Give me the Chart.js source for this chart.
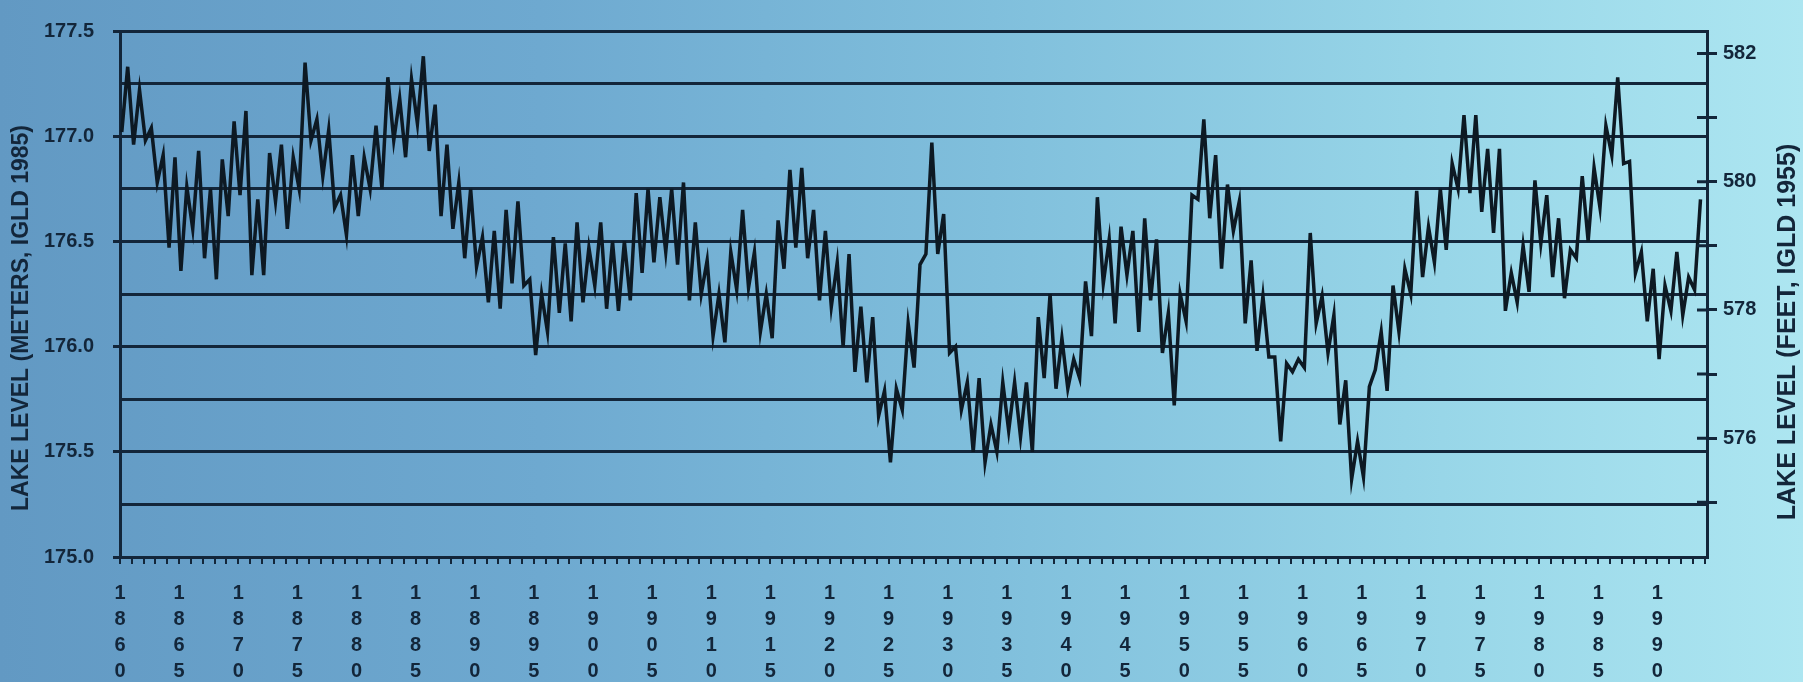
<!DOCTYPE html>
<html>
<head>
<meta charset="utf-8">
<script src="https://cdn.jsdelivr.net/npm/chart.js@4.4.1/dist/chart.umd.min.js"></script>
<style>
  html, body { margin: 0; padding: 0; }
  body {
    width: 1803px; height: 682px; overflow: hidden;
    background: linear-gradient(90deg, #6299c3 0%, #6ea9d0 30%, #80bfdc 55%, #98d6e8 80%, #ade6f1 100%);
  }
</style>
</head>
<body>
<canvas id="lake" width="1803" height="682"></canvas>
<script>
// yearly lake level, metres IGLD 1985
var firstYear = 1860;

// winter low of each year, 1860 ... 1993
var winterLow = [
  177.02, 176.96, 176.98, 176.78, 176.47, 176.36, 176.56, 176.42, 176.32, 176.62, // 1860
  176.72, 176.34, 176.34, 176.69, 176.56, 176.75, 176.98, 176.81, 176.66, 176.53, // 1870
  176.62, 176.75, 176.75, 176.98, 176.90, 177.06, 176.93, 176.62, 176.56, 176.42, // 1880
  176.38, 176.21, 176.18, 176.30, 176.29, 175.96, 176.07, 176.16, 176.12, 176.21, // 1890
  176.29, 176.18, 176.17, 176.22, 176.35, 176.40, 176.45, 176.39, 176.22, 176.25, // 1900
  176.05, 176.02, 176.27, 176.28, 176.07, 176.04, 176.37, 176.47, 176.42, 176.22, // 1910
  176.19, 176.00, 175.88, 175.83, 175.67, 175.45, 175.70, 175.90, 176.44, 176.44, // 1920
  175.97, 175.70, 175.50, 175.45, 175.50, 175.60, 175.57, 175.50, 175.85, 175.80, // 1930
  175.80, 175.85, 176.05, 176.30, 176.11, 176.34, 176.07, 176.22, 175.97, 175.72, // 1940
  176.12, 176.70, 176.61, 176.37, 176.55, 176.11, 175.98, 175.95, 175.55, 175.88, // 1950
  175.90, 176.11, 175.97, 175.63, 175.37, 175.38, 175.89, 175.79, 176.07, 176.25, // 1960
  176.33, 176.40, 176.46, 176.75, 176.73, 176.64, 176.54, 176.17, 176.21, 176.26, // 1970
  176.49, 176.33, 176.23, 176.42, 176.50, 176.66, 176.91, 176.87, 176.35, 176.12, // 1980
  175.94, 176.17, 176.15, 176.27                                                  // 1990
];

// summer high of each year, 1860 ... 1993
var summerHigh = [
  177.33, 177.22, 177.04, 176.91, 176.90, 176.76, 176.93, 176.75, 176.89, 177.07, // 1860
  177.12, 176.70, 176.92, 176.96, 176.90, 177.35, 177.08, 177.03, 176.72, 176.91, // 1870
  176.90, 177.05, 177.28, 177.18, 177.27, 177.38, 177.15, 176.96, 176.78, 176.75, // 1880
  176.52, 176.55, 176.65, 176.69, 176.32, 176.25, 176.52, 176.49, 176.59, 176.47, // 1890
  176.59, 176.50, 176.50, 176.73, 176.75, 176.71, 176.75, 176.78, 176.59, 176.41, // 1900
  176.25, 176.45, 176.65, 176.45, 176.25, 176.60, 176.84, 176.85, 176.65, 176.55, // 1910
  176.40, 176.44, 176.19, 176.14, 175.79, 175.80, 176.11, 176.39, 176.97, 176.63, // 1920
  176.00, 175.83, 175.85, 175.63, 175.83, 175.83, 175.83, 176.14, 176.25, 176.04, // 1930
  175.94, 176.31, 176.71, 176.51, 176.57, 176.55, 176.61, 176.51, 176.16, 176.25, // 1940
  176.72, 177.08, 176.91, 176.77, 176.69, 176.41, 176.24, 175.95, 175.92, 175.94, // 1950
  176.54, 176.24, 176.15, 175.84, 175.55, 175.81, 176.07, 176.29, 176.37, 176.74, // 1960
  176.57, 176.75, 176.87, 177.10, 177.10, 176.94, 176.94, 176.35, 176.48, 176.79, // 1970
  176.72, 176.61, 176.46, 176.81, 176.85, 177.05, 177.28, 176.88, 176.45, 176.37, // 1980
  176.29, 176.45, 176.33, 176.70                                                  // 1990
];

var yearTicks = ['1860', '1865', '1870', '1875', '1880', '1885', '1890', '1895', '1900',
                 '1905', '1910', '1915', '1920', '1925', '1930', '1935', '1940', '1945',
                 '1950', '1955', '1960', '1965', '1970', '1975', '1980', '1985', '1990'];
var leftTickLabels = ['175.0', '175.5', '176.0', '176.5', '177.0', '177.5'];
var rightTickLabels = ['576', '578', '580', '582'];
var leftTitle = 'LAKE LEVEL (METERS, IGLD 1985)';
var rightTitle = 'LAKE LEVEL (FEET, IGLD 1955)';

var INK = '#13263a';
var LINE = '#0d1923';
var FONT = '"Liberation Sans", Arial, sans-serif';
var M_TO_FT = 1 / 0.3048;

Chart.defaults.font.family = FONT;

var points = [];
for (var i = 0; i < summerHigh.length; i++) {
  points.push({ x: firstYear + i + 0.15, y: winterLow[i] });
  points.push({ x: firstYear + i + 0.65, y: summerHigh[i] });
}

function drawTitle(ctx, text, x, y, size) {
  ctx.save();
  ctx.fillStyle = INK;
  ctx.font = 'bold ' + size + 'px ' + FONT;
  ctx.textAlign = 'center';
  ctx.textBaseline = 'middle';
  ctx.translate(x, y);
  ctx.rotate(-Math.PI / 2);
  ctx.fillText(text, 0, 0);
  ctx.restore();
}

// titles read bottom-to-top on both sides, and the feet ticks cross the axis
var sideTitles = {
  id: 'sideTitles',
  afterDraw: function(chart) {
    var ctx = chart.ctx;
    var s = chart.scales.y2;
    ctx.save();
    ctx.strokeStyle = INK;
    ctx.lineWidth = 3;
    ctx.beginPath();
    s.ticks.forEach(function(t) {
      var y = s.getPixelForValue(t.value);
      ctx.moveTo(s.left - 10, y);
      ctx.lineTo(s.left, y);
    });
    ctx.stroke();
    ctx.restore();

    drawTitle(ctx, leftTitle, 22, 318, 23);
    drawTitle(ctx, rightTitle, 1788, 332, 25);
  }
};

new Chart(document.getElementById('lake'), {
  type: 'line',
  data: {
    datasets: [{
      label: 'Lake level',
      data: points,
      borderColor: LINE,
      borderWidth: 3.5,
      pointRadius: 0,
      tension: 0,
      fill: false
    }]
  },
  options: {
    responsive: false,
    animation: false,
    layout: { padding: { top: 14 } },
    plugins: { legend: { display: false }, tooltip: { enabled: false } },
    scales: {
      x: {
        type: 'linear',
        min: 1860,
        max: 1994.2,
        afterFit: function(scale) { scale.height = 125; },
        ticks: {
          stepSize: 1,
          autoSkip: false,
          maxRotation: 0,
          includeBounds: false,
          padding: 16,
          color: INK,
          font: { size: 20, weight: 'bold', lineHeight: 1.3 },
          callback: function(v) {
            var s = String(v);
            return yearTicks.indexOf(s) >= 0 ? s.split('') : '';
          }
        },
        grid: { drawOnChartArea: false, tickLength: 7, color: INK, lineWidth: 2 },
        border: { display: true, color: INK, width: 3 }
      },
      y: {
        min: 175,
        max: 177.5,
        afterFit: function(scale) { scale.width = 120; },
        ticks: {
          stepSize: 0.25,
          padding: 19,
          color: INK,
          font: { size: 20, weight: 'bold' },
          callback: function(v) {
            var s = v.toFixed(1);
            return leftTickLabels.indexOf(s) >= 0 && Math.abs(v * 2 - Math.round(v * 2)) < 1e-6 ? s : '';
          }
        },
        grid: {
          color: INK,
          lineWidth: 3,
          tickLength: 7,
          tickColor: function(c) {
            var v = c.tick ? c.tick.value : 0;
            return Math.abs(v * 2 - Math.round(v * 2)) < 1e-6 ? INK : 'rgba(0,0,0,0)';
          }
        },
        border: { display: true, color: INK, width: 3 }
      },
      y2: {
        position: 'right',
        min: 175 * M_TO_FT,
        max: 177.5 * M_TO_FT,
        afterFit: function(scale) { scale.width = 96; },
        ticks: {
          stepSize: 1,
          includeBounds: false,
          padding: 6,
          color: INK,
          font: { size: 20, weight: 'bold' },
          callback: function(v) {
            var s = String(Math.round(v));
            return rightTickLabels.indexOf(s) >= 0 ? s : '';
          }
        },
        grid: { drawOnChartArea: false, tickLength: 10, color: INK, lineWidth: 3 },
        border: { display: true, color: INK, width: 3 }
      }
    }
  },
  plugins: [sideTitles]
});
</script>
</body>
</html>
